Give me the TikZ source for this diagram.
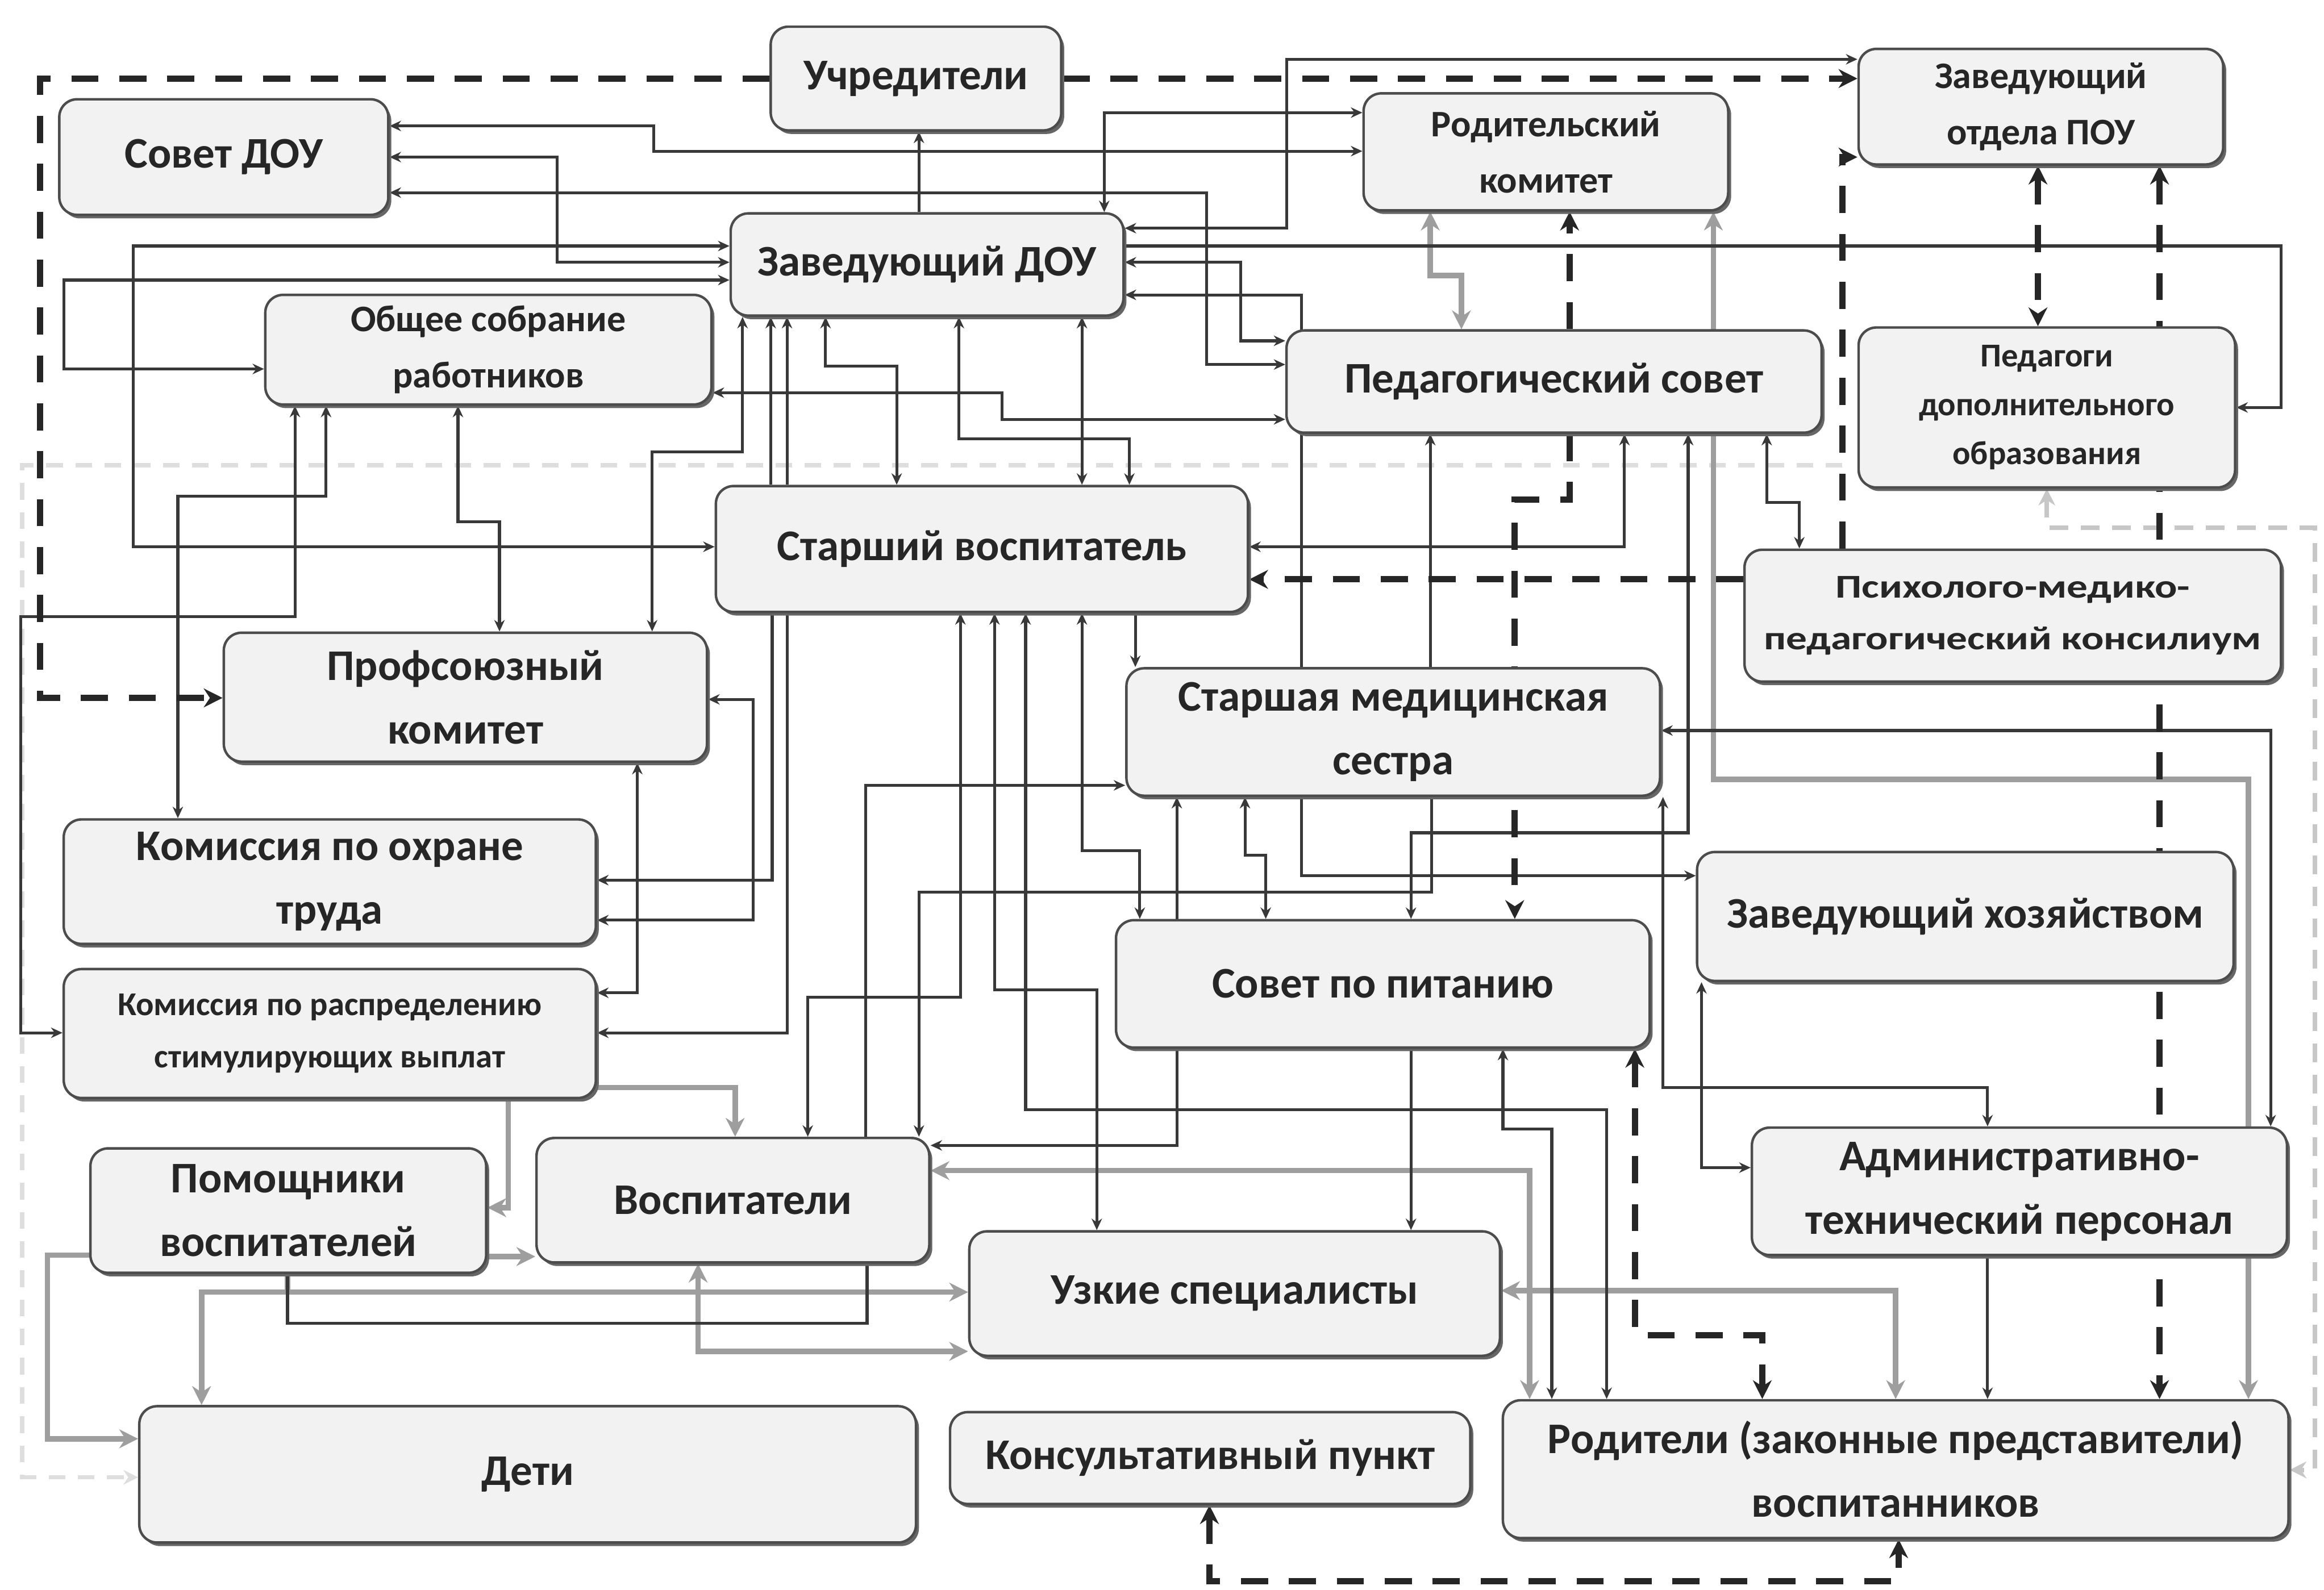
\documentclass[tikz,border=0pt]{standalone}
\usepackage{fontspec}
\usepackage{graphicx}
\setmainfont{Carlito}
\usetikzlibrary{arrows.meta,shadows}
\pgfdeclarelayer{bg}
\pgfsetlayers{bg,main}
\newcommand\fA{\fontsize{21}{30.5}\selectfont\bfseries}
\newcommand\fB{\fontsize{18}{27}\selectfont\bfseries}
\newcommand\fC{\fontsize{16}{23.5}\selectfont\bfseries}
\newcommand\fD{\fontsize{16}{25}\selectfont\bfseries}
\newcommand\wide[1]{\scalebox{1.25}[1]{#1}}
\tikzset{
 box/.style={draw=black!70, line width=1.2pt, rounded corners=3mm, fill=black!5, inner sep=0pt,
   align=center, text=black!85,
   drop shadow={shadow xshift=0.5mm, shadow yshift=-0.6mm, fill=black!60, opacity=1}},
 ln/.style={draw=black!78, line width=1.4pt, >={Stealth[length=5.5pt,width=5pt]}},
 gl/.style={draw=black!38, line width=2.6pt, >={Stealth[length=9pt,width=9pt]}},
 dl/.style={draw=black!85, line width=3pt, dash pattern=on 13pt off 10pt, >={Stealth[length=9pt,width=9pt]}},
 fd/.style={draw=black!13, line width=2pt, dash pattern=on 8pt off 6pt, >={Stealth[length=7pt,width=7pt]}},
 gd/.style={draw=black!22, line width=2.2pt, dash pattern=on 9pt off 6pt, >={Stealth[length=8pt,width=8pt]}},
}
\begin{document}
\begin{tikzpicture}[x=0.25mm,y=-0.25mm]
\useasboundingbox (0,0) rectangle (1568,1073);
% ---------------- nodes
\node[box,minimum width=49mm,minimum height=17.5mm,font=\fA] (uch) at (618,53) {Учредители};
\node[box,minimum width=55.5mm,minimum height=19.5mm,font=\fA] (sovet) at (151,106) {Совет ДОУ};
\node[box,minimum width=61.5mm,minimum height=19.75mm,font=\fB] (rodkom) at (1043,102.5) {Родительский\\комитет};
\node[box,minimum width=61.5mm,minimum height=19.5mm,font=\fB] (pou) at (1377,72) {Заведующий\\отдела ПОУ};
\node[box,minimum width=66.25mm,minimum height=17.25mm,font=\fA] (dou) at (625.5,178.5) {Заведующий ДОУ};
\node[box,minimum width=75.25mm,minimum height=18.5mm,font=\fB] (obsh) at (329.5,236) {Общее собрание\\работников};
\node[box,minimum width=90.25mm,minimum height=17.25mm,font=\fA] (pedsov) at (1048.5,257.5) {Педагогический совет};
\node[box,minimum width=63.5mm,minimum height=27mm,font=\fC] (pdo) at (1381,275) {Педагоги\\дополнительного\\образования};
\node[box,minimum width=89.75mm,minimum height=21.25mm,font=\fA] (starv) at (662.5,370.5) {Старший воспитатель};
\node[box,minimum width=90.5mm,minimum height=22.25mm,font=\fD] (ppk) at (1358,415.5) {\wide{Психолого-медико-}\\\wide{педагогический консилиум}};
\node[box,minimum width=81.5mm,minimum height=21.75mm,font=\fA] (prof) at (314,470.5) {Профсоюзный\\комитет};
\node[box,minimum width=90mm,minimum height=21.5mm,font=\fA] (med) at (940,494) {Старшая медицинская\\сестра};
\node[box,minimum width=89.75mm,minimum height=21mm,font=\fA] (kot) at (222.5,595) {Комиссия по охране\\труда};
\node[box,minimum width=90.5mm,minimum height=21.75mm,font=\fA] (zavhoz) at (1326,618.5) {Заведующий хозяйством};
\node[box,minimum width=90mm,minimum height=21.5mm,font=\fA] (pit) at (933,664) {Совет по питанию};
\node[box,minimum width=89.75mm,minimum height=21.75mm,font=\fD] (ksv) at (222.5,697.5) {Комиссия по распределению\\стимулирующих выплат};
\node[box,minimum width=90.25mm,minimum height=21.5mm,font=\fA] (adm) at (1362.5,804) {Административно-\\технический персонал};
\node[box,minimum width=66.75mm,minimum height=21mm,font=\fA] (pom) at (194.5,817) {Помощники\\воспитателей};
\node[box,minimum width=66.25mm,minimum height=21mm,font=\fA] (vos) at (494.5,810) {Воспитатели};
\node[box,minimum width=89.5mm,minimum height=21mm,font=\fA] (uzk) at (833,873) {Узкие специалисты};
\node[box,minimum width=131mm,minimum height=23mm,font=\fA] (deti) at (356,995) {Дети};
\node[box,minimum width=87.75mm,minimum height=15.5mm,font=\fA] (kons) at (816.5,984) {Консультативный пункт};
\node[box,minimum width=132.5mm,minimum height=23.25mm,font=\fA] (rod) at (1279,991.5) {Родители (законные представители)\\воспитанников};
% ---------------- connectors
\begin{pgfonlayer}{bg}
\fill[white] (0,0) rectangle (1568,1073);
\coordinate (f0) at (1243,314);
\draw[fd,->] (f0) -- (15,314) -- (15,997) -- (deti.west |- 0,997);
\draw[gd,<->] (1381,0 |- pdo.south) -- (1381,356) -- (1562,356) -- (1562,992) -- (rod.east |- 0,992);
% gray
\draw[gl,->] (343,0 |- ksv.south) -- (343,815) -- (pom.east |- 0,815);
\draw[gl,->] (ksv.east |- 0,734) -- (496,734) -- (496,0 |- vos.north);
\draw[gl,->] (pom.east |- 0,848) -- (vos.west |- 0,848);
\draw[gl,->] (pom.west |- 0,847) -- (32,847) -- (32,971) -- (deti.west |- 0,971);
\coordinate (j1) at (194,872);
\draw[gl,->] (194,0 |- pom.south) -- (j1) -- (136,872) -- (136,0 |- deti.north);
\draw[gl,->] (j1) -- (uzk.west |- 0,872);
\draw[gl,<->] (471,0 |- vos.south) -- (471,912) -- (uzk.west |- 0,912);
\draw[gl,<->] (vos.east |- 0,790) -- (1032,790) -- (1032,0 |- rod.north);
\draw[gl,<->] (uzk.east |- 0,871) -- (1279,871) -- (1279,0 |- rod.north);
\draw[gl,<->] (965,0 |- rodkom.south) -- (965,186) -- (986,186) -- (986,0 |- pedsov.north);
\draw[gl,<->] (1156,0 |- rodkom.south) -- (1156,526) -- (1517,526) -- (1517,0 |- rod.north);
% dark
\draw[ln,->] (620,0 |- dou.north) -- (620,0 |- uch.south);
\draw[ln,<->] (dou.east |- 0,154) -- (868,154) -- (868,40) -- (pou.west |- 0,40);
\draw[ln,->] (dou.east |- 0,166) -- (1539,166) -- (1539,275) -- (pdo.east |- 0,275);
\draw[ln,<->] (dou.east |- 0,177) -- (837,177) -- (837,230) -- (pedsov.west |- 0,230);
\draw[ln,<-] (dou.east |- 0,199) -- (878,199) -- (878,0 |- med.north);
\draw[ln,<->] (745,0 |- dou.north) -- (745,76) -- (rodkom.west |- 0,76);
\draw[ln,<->] (sovet.east |- 0,85) -- (441,85) -- (441,102) -- (rodkom.west |- 0,102);
\draw[ln,<->] (sovet.east |- 0,106) -- (376,106) -- (376,177) -- (dou.west |- 0,177);
\draw[ln,<->] (sovet.east |- 0,130) -- (814,130) -- (814,246) -- (pedsov.west |- 0,246);
\draw[ln,<->] (dou.west |- 0,166) -- (90,166) -- (90,369) -- (starv.west |- 0,369);
\draw[ln,<->] (dou.west |- 0,189) -- (43,189) -- (43,249) -- (obsh.west |- 0,249);
\draw[ln,<->] (220,0 |- obsh.south) -- (220,335) -- (120,335) -- (120,0 |- kot.north);
\draw[ln,<->] (199,0 |- obsh.south) -- (199,416) -- (14,416) -- (14,697) -- (ksv.west |- 0,697);
\draw[ln,<->] (309,0 |- obsh.south) -- (309,352) -- (337,352) -- (337,0 |- prof.north);
\draw[ln,<->] (obsh.east |- 0,265) -- (676,265) -- (676,283) -- (pedsov.west |- 0,283);
\draw[ln,<->] (501,0 |- dou.south) -- (501,305) -- (440,305) -- (440,0 |- prof.north);
\draw[ln,<-] (520,0 |- dou.south) -- (520,0 |- starv.north);
\draw[ln,<-] (531,0 |- dou.south) -- (531,0 |- starv.north);
\draw[ln,<->] (557,0 |- dou.south) -- (557,247) -- (605,247) -- (605,0 |- starv.north);
\draw[ln,<->] (647,0 |- dou.south) -- (647,296) -- (762,296) -- (762,0 |- starv.north);
\draw[ln,<->] (730,0 |- dou.south) -- (730,0 |- starv.north);
\draw[ln,->] (521,0 |- starv.south) -- (521,594) -- (kot.east |- 0,594);
\draw[ln,->] (531,0 |- starv.south) -- (531,697) -- (ksv.east |- 0,697);
\draw[ln,<->] (prof.east |- 0,472) -- (508,472) -- (508,621) -- (kot.east |- 0,621);
\draw[ln,<->] (430,0 |- prof.south) -- (430,670) -- (ksv.east |- 0,670);
\draw[ln,<->] (648,0 |- starv.south) -- (648,673) -- (545,673) -- (545,0 |- vos.north);
\draw[ln,<->] (671,0 |- starv.south) -- (671,668) -- (740,668) -- (740,0 |- uzk.north);
\draw[ln,<->] (692,0 |- starv.south) -- (692,749) -- (1084,749) -- (1084,0 |- rod.north);
\draw[ln,<->] (730,0 |- starv.south) -- (730,574) -- (769,574) -- (769,0 |- pit.north);
\draw[ln,->] (766,0 |- starv.south) -- (766,0 |- med.north);
\draw[ln,->] (584,0 |- vos.north) -- (584,530) -- (med.west |- 0,530);
\draw[ln,->] (966,0 |- med.south) -- (966,602) -- (620,602) -- (620,0 |- vos.north);
\draw[ln,<->] (794,0 |- med.south) -- (794,773) -- (vos.east |- 0,773);
\draw[ln,<->] (840,0 |- med.south) -- (840,577) -- (854,577) -- (854,0 |- pit.north);
\draw[ln,->] (878,0 |- med.south) -- (878,591) -- (zavhoz.west |- 0,591);
\draw[ln,<-] (965,0 |- pedsov.south) -- (965,0 |- med.north);
\draw[ln,<->] (1096,0 |- pedsov.south) -- (1096,369) -- (starv.east |- 0,369);
\draw[ln,<->] (1139,0 |- pedsov.south) -- (1139,562) -- (952,562) -- (952,0 |- pit.north);
\draw[ln,<->] (1192,0 |- pedsov.south) -- (1192,339) -- (1214,339) -- (1214,0 |- ppk.north);
\draw[ln,<->] (1122,0 |- med.south) -- (1122,734) -- (1341,734) -- (1341,0 |- adm.north);
\draw[ln,<->] (med.east |- 0,493) -- (1532,493) -- (1532,0 |- adm.north);
\draw[ln,<->] (1148,0 |- zavhoz.south) -- (1148,788) -- (adm.west |- 0,788);
\draw[ln,->] (1341,0 |- adm.south) -- (1341,0 |- rod.north);
\draw[ln,->] (952,0 |- pit.south) -- (952,0 |- uzk.north);
\draw[ln,<->] (1014,0 |- pit.south) -- (1014,762) -- (1047,762) -- (1047,0 |- rod.north);
\draw[ln] (194,0 |- pom.south) -- (194,893) -- (585,893) -- (585,0 |- vos.south);
% dashed
\draw[dl,->] (uch.west) -- (27,0 |- uch.west) -- (27,471) -- (prof.west |- 0,471);
\draw[dl,->] (uch.east) -- (pou.west |- uch.east);
\draw[dl,->] (1243,0 |- ppk.north) -- (1243,106) -- (pou.west |- 0,106);
\draw[dl,->] (ppk.west |- 0,391) -- (starv.east |- 0,391);
\draw[dl,->] (1059,0 |- pedsov.north) -- (1059,0 |- rodkom.south);
\draw[dl,->] (1059,0 |- pedsov.south) -- (1059,337) -- (1022,337) -- (1022,0 |- pit.north);
\draw[dl,<->] (1375,0 |- pou.south) -- (1375,0 |- pdo.north);
\draw[dl,<->] (1457,0 |- pou.south) -- (1457,0 |- rod.north);
\draw[dl,<->] (1103,0 |- pit.south) -- (1103,901) -- (1189,901) -- (1189,0 |- rod.north);
\draw[dl,<->] (816,0 |- kons.south) -- (816,1067) -- (1281,1067) -- (1281,0 |- rod.south);
\end{pgfonlayer}
\end{tikzpicture}
\end{document}
